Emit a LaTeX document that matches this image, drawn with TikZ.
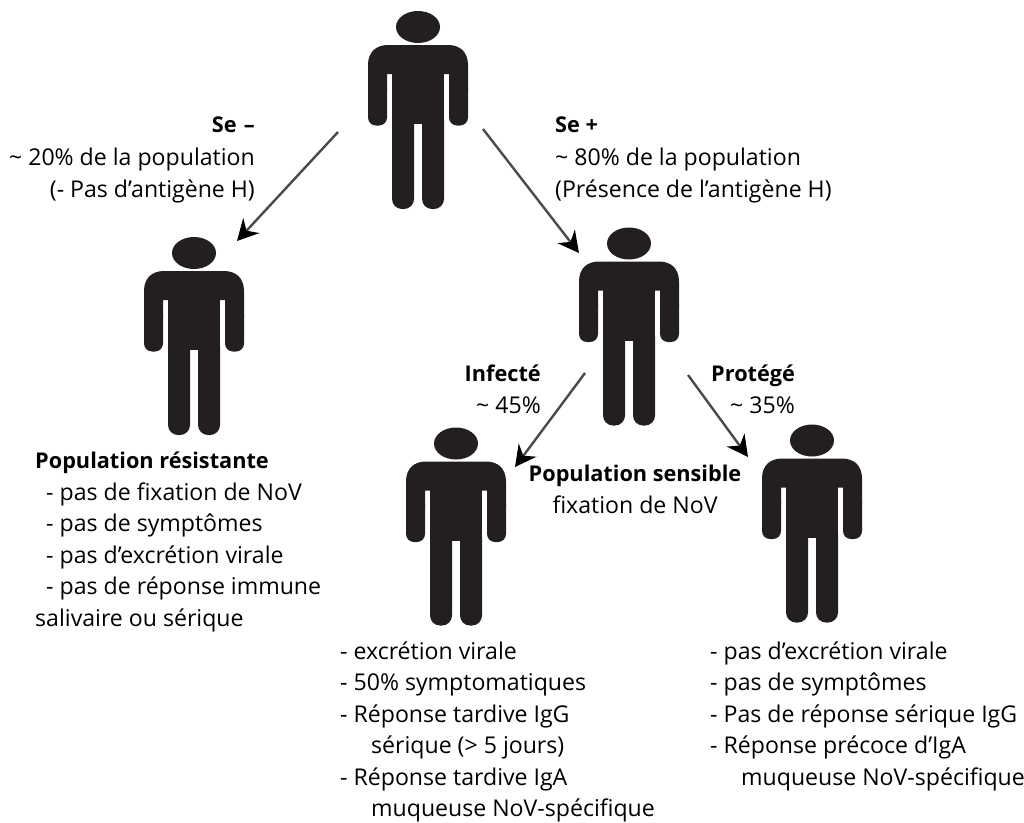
\documentclass[tikz,border=0pt]{standalone}
\usepackage{fontspec}
\setmainfont{Open Sans}
\usepackage{tikz}
\usetikzlibrary{arrows.meta}
\usetikzlibrary{scopes}

\definecolor{figure}{HTML}{231F20}
\definecolor{arrowline}{HTML}{4A4A4A}

\newcommand{\personshape}{
    \begin{scope}[shift={(path picture bounding box.center)},fill=figure]
    \fill (0,-83) ellipse (22 and 16);
    \fill (-50,-20) -- (-50,-45) .. controls (-50,-58) and (-42,-65) .. (-30,-65)
          -- (30,-65) .. controls (42,-65) and (50,-58) .. (50,-45) -- (50,-20)
          -- (31,-20) -- (31,-36) -- (-31,-36) -- (-31,-20) -- cycle;
    \fill [rounded corners=8pt] (-50,-30) rectangle (-31,15.5);
    \fill [rounded corners=8pt] (31,-30) rectangle (50,15.5);
    \fill (-26,-65) rectangle (26,14);
    \fill [rounded corners=10pt] (-26,0) rectangle (-4,99);
    \fill [rounded corners=10pt] (4,0) rectangle (26,99);
    \end{scope}
}
\newcommand{\headline}[1]{{\fontsize{21.7}{31.5}\selectfont\textbf{#1}}}

\begin{document}
\begin{tikzpicture}[x=1pt,y=-1pt]
\useasboundingbox (0,0) rectangle (1024,822);
\begin{scope}[every node/.style={minimum width=100pt,minimum height=198pt,inner sep=0pt,
                                 path picture={\personshape}}]
    \node (top) at (418,110) {};
    \node (left) at (194,336) {};
    \node (middle) at (629,326.5) {};
    \node (infected) at (456,526.5) {};
    \node (protected) at (812,523.5) {};
\end{scope}

\coordinate (topL) at ([shift={(-80,22)}]top.center);
\coordinate (topR) at ([shift={(65,19)}]top.center);
\coordinate (leftIn) at ([shift={(43,-95)}]left.center);
\coordinate (middleIn) at ([shift={(-50,-73.5)}]middle.center);
\coordinate (middleL) at ([shift={(-44,46.5)}]middle.center);
\coordinate (middleR) at ([shift={(59,48.5)}]middle.center);
\coordinate (infectedIn) at ([shift={(59,-59.5)}]infected.center);
\coordinate (protectedIn) at ([shift={(-64,-66.5)}]protected.center);

\begin{scope}[>={Stealth[black,length=21pt,width=22pt,inset=7pt]},
              every edge/.style={draw=arrowline,line width=2.4pt}]
    \path [->] (topL) edge (leftIn);
    \path [->] (topR) edge (middleIn);
    \path [->] (middleL) edge (infectedIn);
    \path [->] (middleR) edge (protectedIn);
\end{scope}

\begin{scope}[every node/.style={inner sep=0pt,font=\fontsize{23.1}{31.5}\selectfont}]
    \node [align=right,anchor=north east,font=\fontsize{23.1}{32.5}\selectfont] (seminus) at (255,117) {\headline{Se\,\,--}\\\textasciitilde{} 20\% de la population\\(- Pas d’antigène H)};
    \node [align=left,anchor=north west,font=\fontsize{23.1}{32.5}\selectfont] (seplus) at (555,117) {\headline{Se +}\\\textasciitilde{} 80\% de la population\\(Présence de l’antigène H)};
    \node [align=right,anchor=north east] (infectedlabel) at (541,365) {\headline{Infecté}\\\textasciitilde{} 45\%};
    \node [align=left,anchor=north west] (protectedlabel) at (711,365) {\headline{Protégé}\\\hspace*{19pt}\textasciitilde{} 35\%};
    \node [align=center,anchor=north] (sensible) at (635,465) {\headline{Population sensible}\\fixation de NoV};
    \node [align=left,anchor=north west] (resistant) at (35,452) {\headline{Population résistante}\\
        \hspace*{11pt}- pas de fixation de NoV\\
        \hspace*{11pt}- pas de symptômes\\
        \hspace*{11pt}- pas d’excrétion virale\\
        \hspace*{11pt}- pas de réponse immune\\
        salivaire ou sérique};
    \node [align=left,anchor=north west] (infectedtext) at (340,641.5) {- excrétion virale\\
        - 50\% symptomatiques\\
        - Réponse tardive IgG\\
        \hspace*{31pt}sérique (> 5 jours)\\
        - Réponse tardive IgA\\
        \hspace*{31pt}muqueuse NoV-spécifique};
    \node [align=left,anchor=north west] (protectedtext) at (710,641.5) {- pas d’excrétion virale\\
        - pas de symptômes\\
        - Pas de réponse sérique IgG\\
        - Réponse précoce d’IgA\\
        \hspace*{31pt}muqueuse NoV-spécifique};
\end{scope}
\end{tikzpicture}
\end{document}
